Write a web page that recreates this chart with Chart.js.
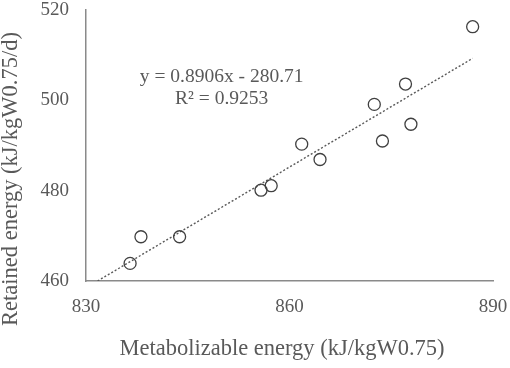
<!DOCTYPE html>
<html>
<head>
<meta charset="utf-8">
<script src="https://cdn.jsdelivr.net/npm/chart.js@4"></script>
<style>
  body { margin: 0; background: #fff; }
</style>
</head>
<body>
<canvas id="chart" width="510" height="368"></canvas>
<script>
// measured points (metabolizable vs retained energy)
const metabolizable = [836.5, 838.1, 843.8, 855.8, 857.3, 861.8, 864.5, 872.5, 873.7, 877.1, 877.9, 887.0];
const retained = [463.9, 469.8, 469.8, 480.1, 481.1, 490.3, 486.9, 499.1, 491.0, 503.6, 494.7, 516.3];

// linear trend line ends, as drawn in the figure
const trendX = [831.7, 887.0];
const trendY = [460, 509.3];

const xTicks = [830, 860, 890];
const yTicks = [460, 480, 500, 520];

const equationLines = ['y = 0.8906x - 280.71', 'R\u00b2 = 0.9253'];
const xTitle = 'Metabolizable energy (kJ/kgW0.75)';
const yTitle = 'Retained energy (kJ/kgW0.75/d)';

const textColor = '#595959';
const serif = "'Liberation Serif', 'Times New Roman', serif";

const points = metabolizable.map((x, i) => ({ x: x, y: retained[i] }));
const trend = trendX.map((x, i) => ({ x: x, y: trendY[i] }));

// axis titles and the equation are drawn here so they sit where the figure has them
const textPlugin = {
    id: 'extraText',
    afterDraw(chart) {
        const ctx = chart.ctx;
        const xs = chart.scales.x, ys = chart.scales.y;
        ctx.save();
        ctx.fillStyle = textColor;
        ctx.textAlign = 'center';
        ctx.textBaseline = 'middle';

        ctx.font = '19.5px ' + serif;
        const ex = xs.getPixelForValue(850);
        const ey = ys.getPixelForValue(505.1);
        equationLines.forEach((line, i) => ctx.fillText(line, ex, ey + i * 21.8));

        ctx.font = '22.5px ' + serif;
        ctx.fillText(xTitle, 282, 349);

        ctx.translate(11, 179);
        ctx.rotate(-Math.PI / 2);
        ctx.fillText(yTitle, 0, 0);
        ctx.restore();
    }
};

new Chart(document.getElementById('chart'), {
    type: 'scatter',
    data: {
        datasets: [{
            label: 'data',
            data: points,
            pointStyle: 'circle',
            pointRadius: 6,
            pointBorderWidth: 1.3,
            pointBorderColor: '#404040',
            pointBackgroundColor: 'rgba(0,0,0,0)',
            showLine: false,
        }, {
            label: 'trend',
            data: trend,
            showLine: true,
            pointRadius: 0,
            borderColor: '#595959',
            borderWidth: 1.4,
            borderDash: [2, 2],
            fill: false,
        }]
    },
    options: {
        responsive: false,
        animation: false,
        layout: { padding: { top: 10, right: 17, left: 0, bottom: 0 } },
        plugins: {
            legend: { display: false },
            tooltip: { enabled: false }
        },
        scales: {
            x: {
                type: 'linear',
                min: 830,
                max: 890,
                afterBuildTicks: scale => { scale.ticks = xTicks.map(v => ({ value: v })); },
                afterFit: scale => {
                    scale.height = 87;
                    scale.paddingLeft = 0;
                    scale.paddingRight = 0;
                },
                grid: { display: false, drawTicks: false },
                border: { display: true, color: '#8a8a8a', width: 1.5 },
                ticks: {
                    color: textColor,
                    padding: 17,
                    font: { family: serif, size: 19, lineHeight: 1 },
                    maxRotation: 0
                }
            },
            y: {
                type: 'linear',
                min: 460,
                max: 520,
                afterBuildTicks: scale => { scale.ticks = yTicks.map(v => ({ value: v })); },
                afterFit: scale => {
                    scale.width = 86;
                    scale.paddingTop = 0;
                    scale.paddingBottom = 0;
                },
                grid: { display: false, drawTicks: false },
                border: { display: true, color: '#8a8a8a', width: 1.5 },
                ticks: {
                    color: textColor,
                    padding: 17,
                    font: { family: serif, size: 19, lineHeight: 1 }
                }
            }
        }
    },
    plugins: [textPlugin]
});
</script>
</body>
</html>
